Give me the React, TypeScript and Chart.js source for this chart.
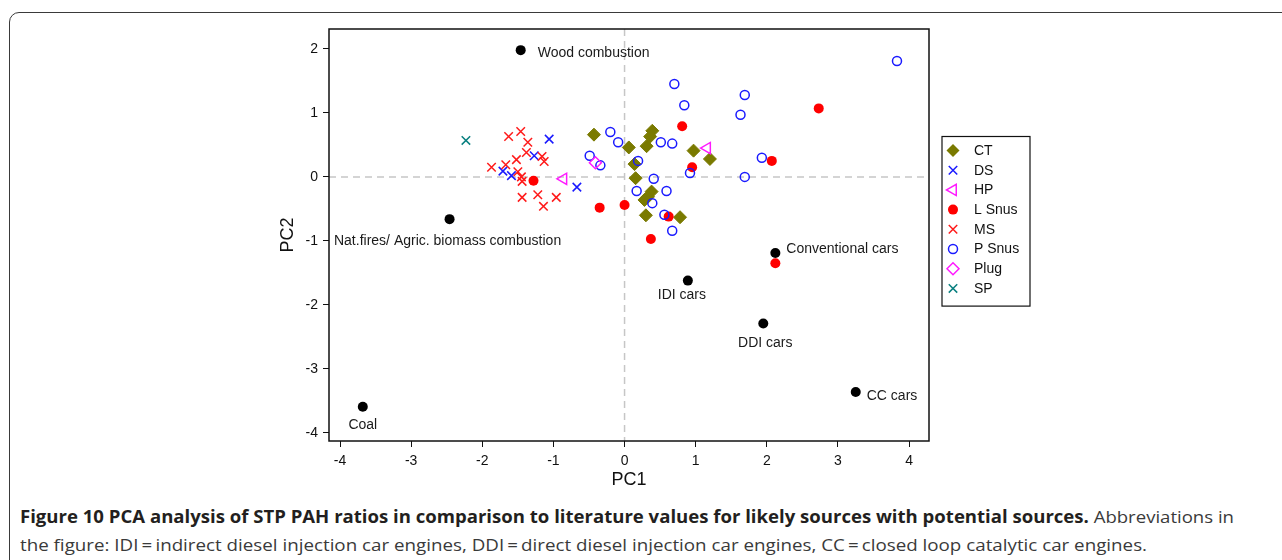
import React, { useEffect, useLayoutEffect, useRef } from "react";
import { Chart, registerables } from "chart.js";

Chart.register(...registerables);

// ---------------- data ----------------
const seriesNames = ["CT", "DS", "HP", "L Snus", "MS", "P Snus", "Plug", "SP"];

const ctX = [-0.43, 0.06, 0.39, 0.36, 0.31, 0.14, 0.155, 0.38, 0.33, 0.28, 0.3, 0.78, 0.97, 1.2];
const ctY = [0.66, 0.46, 0.72, 0.63, 0.48, 0.2, -0.02, -0.23, -0.31, -0.36, -0.6, -0.63, 0.41, 0.28];

const dsX = [-1.06, -1.27, -1.71, -1.59, -0.67];
const dsY = [0.59, 0.33, 0.09, 0.02, -0.16];

const hpX = [-0.86, 1.16];
const hpY = [-0.03, 0.45];

const lSnusX = [-1.28, -0.35, 0.0, 0.62, 0.37, 0.95, 0.81, 2.73, 2.07, 2.12];
const lSnusY = [-0.06, -0.48, -0.44, -0.62, -0.97, 0.15, 0.79, 1.07, 0.25, -1.35];

const msX = [-1.63, -1.46, -1.36, -1.38, -1.16, -1.13, -1.52, -1.67, -1.87, -1.5, -1.45, -1.44, -1.44, -1.22, -0.96, -1.14];
const msY = [0.63, 0.71, 0.54, 0.38, 0.32, 0.24, 0.27, 0.19, 0.15, 0.08, 0.0, -0.07, -0.32, -0.28, -0.32, -0.46];

const pSnusX = [-0.2, -0.09, -0.49, -0.34, 0.19, 0.51, 0.67, 0.7, 0.84, 1.69, 1.63, 0.92, 0.41, 0.17, 0.59, 0.39, 0.56, 0.67, 1.69, 1.93, 3.83];
const pSnusY = [0.7, 0.54, 0.33, 0.18, 0.25, 0.54, 0.52, 1.45, 1.12, 1.28, 0.97, 0.06, -0.03, -0.22, -0.22, -0.41, -0.59, -0.84, 0.0, 0.3, 1.81];

const plugX = [-0.41];
const plugY = [0.22];

const spX = [-2.23];
const spY = [0.57];

const sourceNames = [
  "Wood combustion",
  "Nat.fires/ Agric. biomass combustion",
  "Coal",
  "Conventional cars",
  "IDI cars",
  "DDI cars",
  "CC cars",
];
const sourceX = [-1.46, -2.46, -3.68, 2.12, 0.89, 1.95, 3.25];
const sourceY = [1.98, -0.66, -3.59, -1.19, -1.62, -2.29, -3.36];

const xTicks = [-4, -3, -2, -1, 0, 1, 2, 3, 4];
const yTicks = [-4, -3, -2, -1, 0, 1, 2];

const xTitle = "PC1";
const yTitle = "PC2";

const captionBold = "Figure 10 PCA analysis of STP PAH ratios in comparison to literature values for likely sources with potential sources.";
const captionRest1 = " Abbreviations in";
const captionLine2 =
  "the figure: IDI\u2009=\u2009indirect diesel injection car engines, DDI\u2009=\u2009direct diesel injection car engines, CC\u2009=\u2009closed loop catalytic car engines.";

// ---------------- styles ----------------
const seriesX = [ctX, dsX, hpX, lSnusX, msX, pSnusX, plugX, spX];
const seriesY = [ctY, dsY, hpY, lSnusY, msY, pSnusY, plugY, spY];

type MStyle = { shape: string; color: string; filled: boolean; radius: number; rotation: number; lw: number };
const seriesStyles: MStyle[] = [
  { shape: "rectRot", color: "#7a7a00", filled: true, radius: 6.5, rotation: 0, lw: 1 },
  { shape: "crossRot", color: "#1a1aff", filled: false, radius: 6, rotation: 0, lw: 1.5 },
  { shape: "triangle", color: "#ff1aff", filled: false, radius: 6.5, rotation: -90, lw: 1.5 },
  { shape: "circle", color: "#ff0000", filled: true, radius: 5, rotation: 0, lw: 0 },
  { shape: "crossRot", color: "#ff1a1a", filled: false, radius: 6, rotation: 0, lw: 1.5 },
  { shape: "circle", color: "#1a1aff", filled: false, radius: 4.5, rotation: 0, lw: 1.5 },
  { shape: "rectRot", color: "#ff1aff", filled: false, radius: 6, rotation: 0, lw: 1.5 },
  { shape: "crossRot", color: "#0a8080", filled: false, radius: 6, rotation: 0, lw: 1.5 },
];
const sourceStyle: MStyle = { shape: "circle", color: "#000000", filled: true, radius: 5, rotation: 0, lw: 0 };

// label placement relative to each source point (align, dx, dy in px)
const sourceLabelPlacement: { align: CanvasTextAlign; dx: number; dy: number }[] = [
  { align: "left", dx: 17, dy: 3 },
  { align: "center", dx: -2, dy: 22 },
  { align: "center", dx: 0, dy: 18 },
  { align: "left", dx: 11, dy: -4 },
  { align: "center", dx: -6, dy: 15 },
  { align: "center", dx: 2, dy: 20 },
  { align: "left", dx: 11, dy: 4 },
];

const FONT = '"Liberation Sans", Arial, Helvetica, sans-serif';
const xRange = { min: -4.155, max: 4.28 };
const yRange = { min: -4.125, max: 2.31 };

function drawMarker(ctx: CanvasRenderingContext2D, st: MStyle, x: number, y: number) {
  const r = st.radius;
  ctx.save();
  ctx.lineWidth = st.lw || 1;
  ctx.strokeStyle = st.color;
  ctx.fillStyle = st.color;
  ctx.beginPath();
  if (st.shape === "circle") {
    ctx.arc(x, y, r, 0, Math.PI * 2);
  } else if (st.shape === "rectRot") {
    ctx.moveTo(x, y - r);
    ctx.lineTo(x + r, y);
    ctx.lineTo(x, y + r);
    ctx.lineTo(x - r, y);
    ctx.closePath();
  } else if (st.shape === "triangle") {
    let rad = (st.rotation * Math.PI) / 180;
    for (let k = 0; k < 3; k++) {
      const px = x + Math.sin(rad) * r;
      const py = y - Math.cos(rad) * r;
      if (k === 0) ctx.moveTo(px, py);
      else ctx.lineTo(px, py);
      rad += (2 * Math.PI) / 3;
    }
    ctx.closePath();
  } else if (st.shape === "crossRot") {
    const o = r * Math.SQRT1_2;
    ctx.moveTo(x - o, y - o);
    ctx.lineTo(x + o, y + o);
    ctx.moveTo(x - o, y + o);
    ctx.lineTo(x + o, y - o);
  }
  if (st.filled) ctx.fill();
  else ctx.stroke();
  ctx.restore();
}

const decoPlugin = {
  id: "deco",
  beforeDatasetsDraw(chart: any) {
    const { ctx, chartArea: a, scales } = chart;
    const x0 = scales.x.getPixelForValue(0);
    const y0 = scales.y.getPixelForValue(0);
    ctx.save();
    ctx.beginPath();
    ctx.rect(a.left, a.top, a.right - a.left, a.bottom - a.top);
    ctx.clip();
    ctx.strokeStyle = "#c6c6c6";
    ctx.lineWidth = 1.5;
    ctx.setLineDash([7, 5]);
    ctx.beginPath();
    ctx.moveTo(x0, a.top);
    ctx.lineTo(x0, a.bottom);
    ctx.moveTo(a.left, y0);
    ctx.lineTo(a.right, y0);
    ctx.stroke();
    ctx.restore();
  },
  afterDatasetsDraw(chart: any) {
    const { ctx, chartArea: a, scales } = chart;
    ctx.save();
    // frame
    ctx.strokeStyle = "#111";
    ctx.lineWidth = 1.5;
    ctx.strokeRect(a.left, a.top, a.right - a.left, a.bottom - a.top);
    // source labels
    ctx.fillStyle = "#1a1a1a";
    ctx.font = `14px ${FONT}`;
    ctx.textBaseline = "middle";
    sourceNames.forEach((name, i) => {
      const p = sourceLabelPlacement[i];
      const px = scales.x.getPixelForValue(sourceX[i]);
      const py = scales.y.getPixelForValue(sourceY[i]);
      ctx.textAlign = p.align;
      ctx.fillText(name, px + p.dx, py + p.dy);
    });
    // legend
    const lx = a.right + 13;
    const ly = 136.5;
    const lw = 88;
    const rowH = 19.7;
    const lh = rowH * seriesNames.length + 12;
    ctx.strokeStyle = "#111";
    ctx.lineWidth = 1.2;
    ctx.strokeRect(lx, ly, lw, lh);
    ctx.textAlign = "left";
    ctx.fillStyle = "#111";
    seriesNames.forEach((name, i) => {
      const cy = ly + 14 + i * rowH;
      drawMarker(ctx, seriesStyles[i], lx + 11, cy);
      ctx.fillStyle = "#111";
      ctx.fillText(name, lx + 32, cy + 0.5);
    });
    ctx.restore();
  },
};

export default function App() {
  const canvasRef = useRef<HTMLCanvasElement>(null);
  const cap1 = useRef<HTMLDivElement>(null);
  const cap2 = useRef<HTMLDivElement>(null);

  useLayoutEffect(() => {
    const fit = () => {
      const pairs: [HTMLDivElement | null, number][] = [
        [cap1.current, 1214],
        [cap2.current, 1127],
      ];
      pairs.forEach(([el, target]) => {
        if (!el) return;
        el.style.transform = "none";
        const w = el.getBoundingClientRect().width;
        if (w > 0) el.style.transform = `scaleX(${target / w})`;
      });
    };
    fit();
    if ((document as any).fonts?.ready) (document as any).fonts.ready.then(fit);
  }, []);

  useEffect(() => {
    const canvas = canvasRef.current;
    if (!canvas) return;
    const datasets: any[] = seriesNames.map((name, i) => {
      const st = seriesStyles[i];
      return {
        label: name,
        data: seriesX[i].map((x, j) => ({ x, y: seriesY[i][j] })),
        pointStyle: st.shape,
        pointRadius: st.radius,
        pointRotation: st.rotation,
        pointBackgroundColor: st.filled ? st.color : "rgba(0,0,0,0)",
        pointBorderColor: st.color,
        pointBorderWidth: st.lw,
        showLine: false,
        order: seriesNames.length - i + 1,
      };
    });
    datasets.push({
      label: "Sources",
      data: sourceX.map((x, j) => ({ x, y: sourceY[j] })),
      pointStyle: "circle",
      pointRadius: sourceStyle.radius,
      pointBackgroundColor: sourceStyle.color,
      pointBorderColor: sourceStyle.color,
      pointBorderWidth: 0,
      showLine: false,
      order: 0,
    });

    const chart = new Chart(canvas, {
      type: "scatter",
      data: { datasets },
      options: {
        responsive: false,
        animation: false,
        events: [],
        layout: { padding: { left: 273, right: 353, top: 29, bottom: 5 } },
        plugins: { legend: { display: false }, tooltip: { enabled: false } },
        scales: {
          x: {
            type: "linear",
            min: xRange.min,
            max: xRange.max,
            afterBuildTicks: (s: any) => {
              s.ticks = xTicks.map((v) => ({ value: v }));
            },
            afterFit: (s: any) => {
              s.height = 54;
            },
            grid: { drawOnChartArea: false, drawTicks: true, tickLength: 6, color: "#111", lineWidth: 1 },
            border: { display: false },
            ticks: { font: { family: FONT, size: 14 }, color: "#111", padding: 6, maxRotation: 0, autoSkip: false },
            title: { display: true, text: xTitle, font: { family: FONT, size: 18 }, color: "#111", padding: { top: 0, bottom: 4 } },
          },
          y: {
            type: "linear",
            min: yRange.min,
            max: yRange.max,
            afterBuildTicks: (s: any) => {
              s.ticks = yTicks.map((v) => ({ value: v }));
            },
            afterFit: (s: any) => {
              s.width = 56;
            },
            grid: { drawOnChartArea: false, drawTicks: true, tickLength: 6, color: "#111", lineWidth: 1 },
            border: { display: false },
            ticks: { font: { family: FONT, size: 14 }, color: "#111", padding: 5, autoSkip: false },
            title: { display: true, text: yTitle, font: { family: FONT, size: 18 }, color: "#111", padding: { top: 4, bottom: 0 } },
          },
        },
      },
      plugins: [decoPlugin],
    } as any);
    return () => chart.destroy();
  }, []);

  const capStyle: React.CSSProperties = {
    position: "absolute",
    left: 20,
    whiteSpace: "nowrap",
    fontFamily: '"Open Sans", "Noto Sans", sans-serif',
    fontSize: 17,
    lineHeight: "23px",
    color: "#3a3a3a",
    transformOrigin: "left top",
    display: "inline-block",
  };

  return (
    <div style={{ position: "relative", width: 1282, height: 560, overflow: "hidden", background: "#fff" }}>
      <style>{"body{margin:0}"}</style>
      <div
        style={{
          position: "absolute",
          left: 9,
          top: 12,
          width: 1320,
          height: 620,
          border: "1.5px solid #3a3a3a",
          borderRadius: 10,
          boxSizing: "border-box",
        }}
      />
      <canvas ref={canvasRef} width={1282} height={500} style={{ position: "absolute", left: 0, top: 0, width: 1282, height: 500 }} />
      <div ref={cap1} style={{ ...capStyle, top: 505 }}>
        <b style={{ color: "#231f20" }}>{captionBold}</b>
        {captionRest1}
      </div>
      <div ref={cap2} style={{ ...capStyle, top: 533 }}>
        {captionLine2}
      </div>
    </div>
  );
}
